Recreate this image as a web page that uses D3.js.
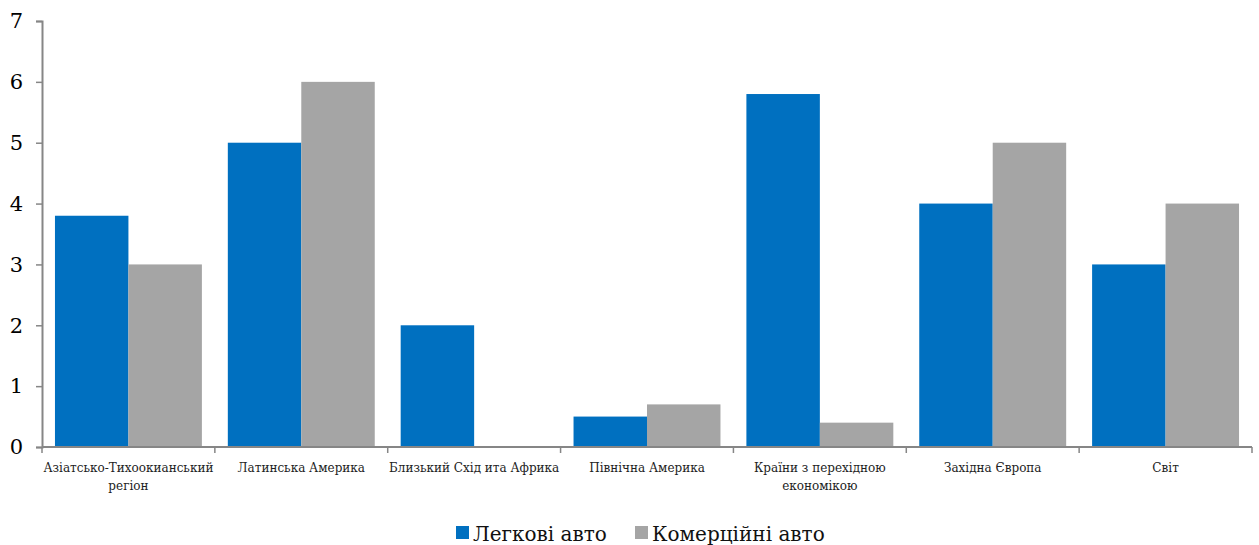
<!DOCTYPE html>
<html>
<head>
<meta charset="utf-8">
<script src="https://cdn.jsdelivr.net/npm/d3@7"></script>
<style>
  body { margin: 0; background: #fff; }
</style>
</head>
<body>
<svg id="chart" width="1259" height="545"></svg>
<script>
// Regions (each label split into display lines)
const categories = [
  ["Азіатсько-Тихоокианський", "регіон"],
  ["Латинська Америка"],
  ["Близький Схід ита Африка"],
  ["Північна Америка"],
  ["Країни з перехідною", "економікою"],
  ["Західна Європа"],
  ["Світ"]
];
const seriesNames = ["Легкові авто", "Комерційні авто"];
const passengerCars = [3.8, 5, 2, 0.5, 5.8, 4, 3];
const commercialVehicles = [3, 6, 0, 0.7, 0.4, 5, 4];
const yTicks = [0, 1, 2, 3, 4, 5, 6, 7];
const colors = ["#0070C0", "#A5A5A5"];
const serif = "DejaVu Serif";

const svg = d3.select("#chart");
const margin = { left: 42, right: 7, top: 21, bottom: 98 };
const W = 1259, H = 545;

const keys = categories.map((c, i) => i);
const x0 = d3.scaleBand().domain(keys)
  .range([margin.left, W - margin.right])
  .paddingInner(0.15).paddingOuter(0.075);
const x1 = d3.scaleBand().domain([0, 1]).range([0, x0.bandwidth()]);
const y = d3.scaleLinear().domain([0, 7]).range([H - margin.bottom, margin.top]);

const series = [passengerCars, commercialVehicles];

// Bars
const groups = svg.append("g").selectAll("g").data(keys).join("g")
  .attr("transform", d => `translate(${x0(d)},0)`);
groups.selectAll("rect")
  .data(i => series.map((s, k) => ({ k, v: s[i] })))
  .join("rect")
  .attr("x", d => x1(d.k))
  .attr("width", x1.bandwidth())
  .attr("y", d => y(d.v))
  .attr("height", d => y(0) - y(d.v))
  .attr("fill", d => colors[d.k]);

const axisColor = "#868686";

// Y axis
const yAxis = svg.append("g")
  .attr("transform", `translate(${margin.left},0)`)
  .call(d3.axisLeft(y).tickValues(yTicks).tickFormat(d3.format("d")).tickSize(6).tickPadding(13));
yAxis.select(".domain").attr("stroke", axisColor).attr("stroke-width", 2);
yAxis.selectAll(".tick line").attr("stroke", axisColor).attr("stroke-width", 1.5);
yAxis.selectAll(".tick text").attr("fill", "#000")
  .style("font-family", serif).style("font-size", "21px");

// X axis: baseline with ticks at category boundaries
const xAxis = svg.append("g");
const x0Range = x0.range();
xAxis.append("line")
  .attr("x1", x0Range[0]).attr("x2", x0Range[1])
  .attr("y1", y(0)).attr("y2", y(0))
  .attr("stroke", axisColor).attr("stroke-width", 2);
const bounds = d3.range(categories.length + 1).map(i => x0Range[0] + i * x0.step());
xAxis.selectAll("line.b").data(bounds).join("line")
  .attr("class", "b")
  .attr("x1", d => d).attr("x2", d => d)
  .attr("y1", y(0)).attr("y2", y(0) + 6)
  .attr("stroke", axisColor).attr("stroke-width", 1.5);

const labels = xAxis.selectAll("text").data(keys).join("text")
  .attr("text-anchor", "middle")
  .style("font-family", serif).style("font-size", "12px")
  .attr("fill", "#222")
  .attr("transform", d => `translate(${x0(d) + x0.bandwidth() / 2},${y(0) + 25})`);
labels.selectAll("tspan").data(d => categories[d]).join("tspan")
  .attr("x", 0).attr("dy", (d, i) => i === 0 ? 0 : 18)
  .text(d => d);

// Legend
const legend = svg.append("g").attr("transform", "translate(0,533)");
const legendX = [456, 635];
seriesNames.forEach((name, k) => {
  const g = legend.append("g").attr("transform", `translate(${legendX[k]},0)`);
  g.append("rect").attr("x", 0).attr("y", -7).attr("width", 13).attr("height", 13).attr("fill", colors[k]);
  g.append("text").attr("x", 17).attr("y", 8)
    .style("font-family", serif).style("font-size", "20px")
    .attr("fill", "#111").text(name);
});
</script>
</body>
</html>
